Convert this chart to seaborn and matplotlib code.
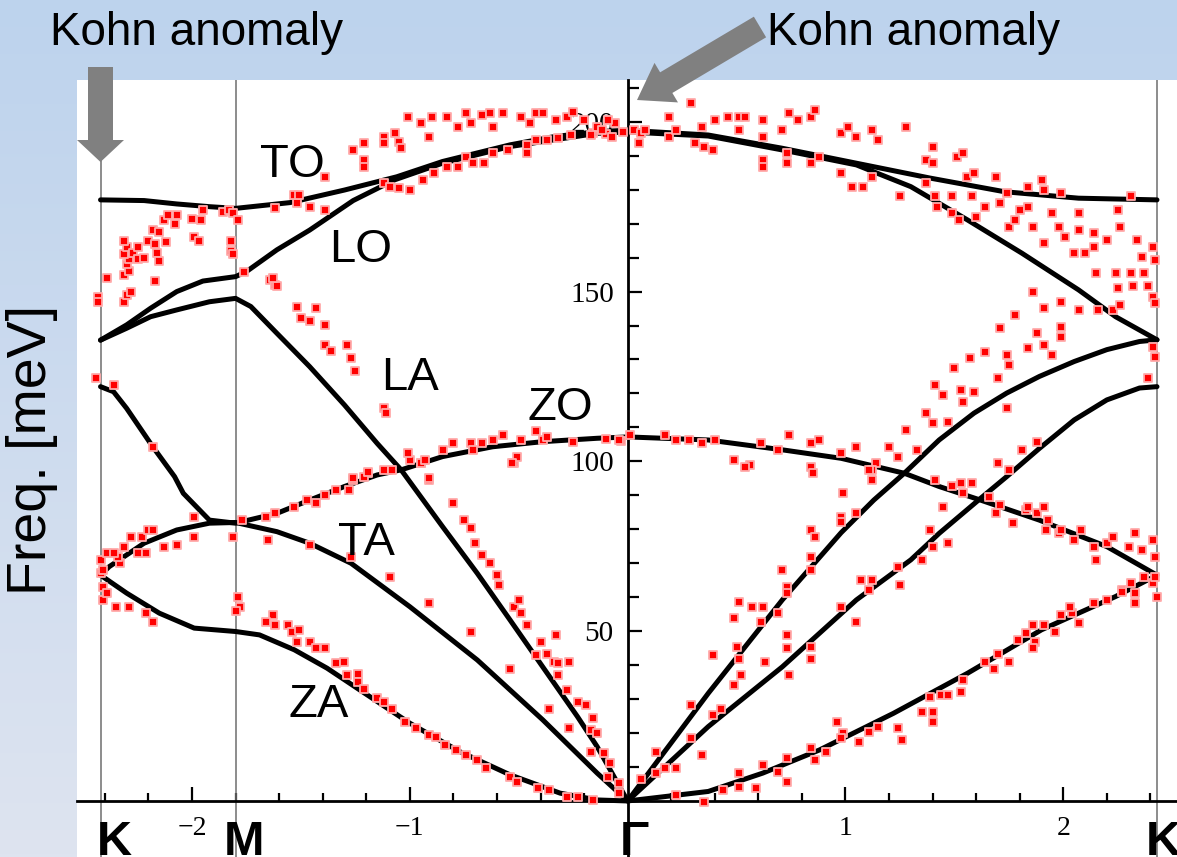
import numpy as np
import matplotlib
matplotlib.use('Agg')
import matplotlib.pyplot as plt
from matplotlib.patches import FancyArrow
import seaborn as sns

# ---------------- data ----------------
sym_q = [-2.42, -1.80, 0.0, 2.43]
sym_labels = ['K', 'M', 'Γ', 'K']
sym_label_dx = [-4, -12, -8, -11]          # pixel offsets of the point labels

x_major = [-2, -1, 1, 2]
x_major_labels = ['−2', '−1', '1', '2']
y_major = [50, 100, 150, 200]
y_major_labels = ['50', '100', '150', '200']

branch_names = ['TO', 'LO', 'LA', 'ZO', 'TA', 'ZA']
TO_q = [-2.42, -2.22, -2.07, -1.92, -1.80, -1.55, -1.30, -1.06, -0.85, -0.54, -0.34, -0.14, 0.0,
        0.37, 0.71, 1.05, 1.39, 1.73, 2.07, 2.43]
TO_E = [177.0, 176.8, 175.8, 175.0, 174.5, 176.2, 179.9, 183.8, 188.3, 193.2, 195.6, 197.1, 197.5,
        196.1, 192.2, 187.8, 183.4, 179.4, 177.5, 177.0]
LO_q = [-2.42, -2.30, -2.19, -2.07, -1.95, -1.80, -1.75, -1.61, -1.46, -1.26, -1.07, -0.85, -0.54,
        -0.14, 0.0, 0.37, 0.71, 1.05, 1.30, 1.56, 1.81, 2.07, 2.24, 2.43]
LO_E = [135.7, 140.2, 145.1, 150.0, 153.1, 154.4, 155.9, 162.3, 168.1, 176.8, 182.9, 187.8, 192.7,
        196.6, 197.0, 195.8, 191.7, 187.3, 180.9, 171.1, 161.3, 150.5, 142.6, 135.8]
LA_q = [-2.42, -2.30, -2.19, -2.07, -1.92, -1.80, -1.73, -1.61, -1.46, -1.30, -1.15, -1.04, -0.85,
        -0.69, -0.54, -0.39, -0.23, -0.14, 0.0, 0.37, 0.71, 0.98, 1.13, 1.27, 1.43, 1.59, 1.74,
        1.89, 2.05, 2.20, 2.35, 2.43]
LA_E = [135.7, 139.2, 142.6, 144.6, 147.0, 148.0, 145.6, 137.7, 127.9, 116.6, 105.3, 97.5, 80.8,
        67.0, 53.3, 39.5, 24.8, 16.0, 0.0, 31.7, 59.2, 79.0, 88.6, 96.5, 106.3, 114.2, 120.1,
        125.0, 129.4, 132.9, 135.3, 135.8]
ZO_q = [-2.42, -2.36, -2.30, -2.18, -2.08, -2.04, -1.92, -1.80, -1.61, -1.46, -1.30, -1.15, -1.04,
        -0.85, -0.62, -0.39, -0.14, 0.0, 0.37, 0.71, 0.98, 1.27, 1.43, 1.62, 1.89, 2.20, 2.43]
ZO_E = [122.0, 120.5, 115.6, 104.3, 95.5, 90.6, 82.7, 81.8, 84.7, 88.6, 92.6, 96.0, 97.5,
        101.4, 104.3, 105.8, 106.8, 107.2, 106.3, 103.4, 100.9, 96.5, 92.6, 88.6, 82.7, 74.9, 66.5]
TA_q = [-2.42, -2.38, -2.22, -2.07, -1.92, -1.80, -1.61, -1.46, -1.27, -1.00, -0.69, -0.39, -0.14,
        0.0, 0.37, 0.71, 1.05, 1.30, 1.43, 1.62, 1.74, 1.89, 2.05, 2.20, 2.35, 2.43]
TA_E = [66.5, 69.0, 75.9, 79.8, 81.8, 82.0, 79.3, 75.9, 70.0, 57.2, 41.5, 23.9, 8.2,
        0.0, 21.9, 39.5, 59.2, 71.0, 78.8, 89.1, 95.5, 103.8, 112.2, 118.1, 121.6, 122.0]
ZA_q = [-2.42, -2.30, -2.15, -1.99, -1.80, -1.69, -1.53, -1.38, -1.23, -1.00, -0.77, -0.54, -0.31,
        -0.14, 0.0, 0.37, 0.62, 0.88, 1.22, 1.56, 1.90, 2.24, 2.43]
ZA_E = [66.5, 61.2, 55.3, 50.9, 49.9, 48.9, 44.5, 39.1, 32.7, 22.9, 14.5, 7.7, 2.3,
        0.3, 0.0, 2.8, 8.2, 15.0, 25.8, 37.6, 50.4, 60.2, 66.5]

label_q = [-1.537, -1.225, -1.000, -0.311, -1.197, -1.417]
label_E = [183.7, 158.7, 121.0, 112.2, 72.4, 24.7]

# measured points, K-M section
exp_q_KM = [-2.43, -2.43, -2.39, -2.31, -2.30, -2.28, -2.31, -2.29, -2.30, -2.29, -2.31, -2.30, -2.31,
            -2.27, -2.25, -2.25, -2.22, -2.20, -2.18, -2.17, -2.16, -2.15, -2.17, -2.15, -2.13, -2.12,
            -2.11, -2.08, -2.07, -2.00, -1.99, -1.97, -1.95, -1.96, -1.86, -1.83, -1.81, -1.79, -1.82,
            -1.82, -1.81,
            -2.44, -2.36, -2.18,
            -2.42, -2.42, -2.41, -2.41, -2.39, -2.39, -2.41, -2.35, -2.29, -2.33, -2.31, -2.28, -2.25,
            -2.23, -2.21, -2.20, -2.18, -2.13, -2.07, -1.99, -1.99, -2.21, -2.18, -2.34, -2.36, -1.81,
            -1.79, -1.78, -1.80]
exp_E_KM = [148.5, 147.0, 154.0, 147.0, 149.0, 150.0, 155.0, 156.0, 158.0, 159.5, 161.0, 163.0, 165.0,
            161.5, 163.0, 159.5, 160.0, 165.0, 168.0, 164.0, 161.5, 159.0, 153.0, 167.5, 171.0, 164.5,
            172.5, 170.0, 172.5, 171.5, 166.0, 165.0, 174.0, 171.0, 173.5, 174.0, 173.0, 171.0, 165.0,
            162.0, 161.0,
            124.5, 122.5, 104.3,
            71.0, 67.0, 63.1, 59.2, 61.1, 72.9, 68.0, 57.2, 57.2, 70.0, 74.9, 77.8, 72.9,
            77.8, 72.9, 79.8, 79.8, 74.9, 75.4, 77.8, 83.7, 55.3, 52.8, 71.9, 72.9, 77.8,
            60.2, 57.2, 55.8]

# measured points, M-Gamma section
exp_q_MG = [-1.77, -1.66, -1.62, -1.65, -1.53, -1.47, -1.43, -1.39, -1.34, -1.28, -1.26, -1.19, -1.12,
            -1.08, -1.00, -0.95, -1.46, -1.27, -1.09, -0.91, -0.72, -0.54, -0.36, -0.91, -0.52,
            -0.80, -0.75, -0.72, -0.70, -0.67, -0.63, -0.60, -0.59, -0.52, -0.50, -0.49, -0.46, -0.40,
            -0.33, -0.42, -0.37, -0.34, -0.32, -0.27, -0.32, -0.28, -0.23, -0.19, -0.27, -0.16, -0.17,
            -0.17,
            -0.14, -0.11, -0.08, -0.09, -0.04, -0.04,
            -1.63, -1.66, -1.62, -1.56, -1.54, -1.51, -1.52, -1.46, -1.43, -1.39, -1.34, -1.30, -1.29,
            -1.24, -1.24, -1.21, -1.15, -1.12, -1.08, -1.02, -0.97, -0.91, -0.88, -0.84, -0.79, -0.74,
            -0.69, -0.65, -0.54, -0.51, -0.41, -0.36, -0.28, -0.23, -0.16,
            -1.26, -1.21, -1.19, -1.01, -0.95, -0.93, -0.85, -0.80, -0.72, -0.71, -0.67, -0.62, -0.57,
            -0.49, -0.42, -0.39, -0.37, -0.25, -0.51, -0.53, -0.91, -0.10, -0.03, -0.04,
            -1.62, -1.52, -1.53, -1.51, -1.46, -1.39, -1.39, -1.76, -1.64, -1.62, -1.61, -1.63,
            -1.52, -1.43, -1.50, -1.46, -1.39, -1.39, -1.36, -1.29, -1.27, -1.25, -1.12, -1.11,
            -1.26, -1.21, -1.21, -1.21, -1.12, -1.12, -1.07, -1.05, -1.04, -1.01, -0.95, -0.91, -0.90,
            -0.83, -0.78, -0.74, -0.72, -0.67, -0.63, -0.62, -0.57, -0.49, -0.45, -0.42, -0.39, -0.33,
            -0.28, -0.25, -0.20,
            -1.12, -1.09, -1.05, -1.00, -0.94, -0.89, -0.83, -0.78, -0.74, -0.71, -0.66, -0.62, -0.55,
            -0.46, -0.46, -0.42, -0.37, -0.32, -0.26, -0.16,
            -0.14, -0.10, -0.06, -0.02, -0.17, -0.12, -0.09, -0.07]
exp_E_MG = [82.7, 83.7, 84.7, 76.8, 86.7, 88.6, 87.7, 90.1, 91.6, 91.6, 94.5, 96.5, 97.5,
            97.5, 100.4, 99.4, 75.4, 71.9, 66.0, 58.2, 49.8, 39.0, 27.2, 94.5, 99.4,
            87.7, 82.7, 80.3, 75.9, 72.4, 70.0, 66.5, 63.6, 57.2, 59.2, 55.3, 51.8, 46.9,
            48.9, 43.0, 43.4, 41.0, 40.5, 41.0, 37.0, 32.7, 29.2, 28.2, 21.4, 24.3, 20.9,
            14.5,
            19.9, 14.0, 11.1, 7.1, 5.2, 2.2,
            54.8, 52.8, 51.8, 51.8, 49.8, 50.3, 46.9, 46.9, 44.9, 44.9, 40.5, 41.0, 37.0,
            37.5, 35.1, 33.1, 30.2, 29.2, 27.2, 23.3, 21.4, 19.4, 18.9, 16.5, 15.0, 13.6,
            12.1, 9.6, 7.1, 5.7, 3.7, 3.2, 1.2, 1.2, 0.2,
            95.0, 95.5, 97.0, 102.4, 99.4, 100.4, 103.4, 105.3, 105.3, 103.4, 105.3, 106.3, 107.8,
            106.3, 108.8, 106.3, 107.3, 105.8, 101.4, 99.4, 95.0, 106.5, 106.0, 106.3,
            174.5, 176.0, 178.4, 178.4, 175.0, 174.0, 183.8, 155.9, 153.4, 152.0, 151.5, 154.0,
            145.6, 145.1, 142.2, 141.2, 140.3, 134.4, 132.4, 134.4, 130.5, 126.6, 115.8, 114.3,
            191.7, 193.7, 188.8, 186.8, 195.6, 193.7, 196.6, 194.1, 192.2, 201.5, 199.6, 195.6, 201.5,
            201.5, 198.6, 202.5, 199.6, 202.0, 202.5, 198.6, 202.5, 201.5, 199.6, 202.5, 202.5, 200.5,
            201.5, 203.0, 200.5,
            181.9, 180.9, 180.4, 179.9, 182.9, 184.8, 186.8, 186.8, 189.7, 187.8, 187.8, 190.7, 191.7,
            193.2, 190.7, 194.6, 194.6, 195.1, 196.1, 196.6,
            198.5, 196.5, 199.5, 197.0, 196.0, 197.6, 200.5, 195.6]

# measured points, Gamma-K section
exp_q_GK = [0.03, 0.05, 0.06, 0.08, 0.19, 0.19, 0.22, 0.29, 0.31, 0.34, 0.35, 0.39, 0.40, 0.46, 0.51,
            0.54, 0.51, 0.62, 0.62, 0.62, 0.62, 0.71, 0.73, 0.73, 0.74, 0.78, 0.84, 0.86, 0.84, 0.88,
            0.98, 0.98, 1.01, 1.05, 1.03, 1.08, 1.12, 1.12, 1.15, 1.25, 1.28, 1.37, 1.37, 1.40, 1.40,
            1.41, 1.42, 1.49, 1.49, 1.51, 1.54, 1.52, 1.56, 1.58, 1.59, 1.60, 1.64, 1.69, 1.71, 1.74,
            1.75, 1.78, 1.80, 1.84, 1.84, 1.86, 1.90, 1.91, 1.91, 1.95, 1.99, 1.98, 2.01, 2.05, 2.07,
            2.07, 2.10, 2.14, 2.14, 2.15, 2.20, 2.24, 2.25, 2.26, 2.25, 2.31, 2.31, 2.32, 2.34, 2.36,
            2.37, 2.39, 2.41, 2.41, 2.42, 2.42,
            1.86, 1.91, 1.99, 2.07, 2.16, 2.23, 2.26, 1.99, 1.99, 1.88, 1.78, 1.71, 1.64, 1.57, 1.74,
            1.75, 1.84, 1.91, 1.95, 1.50, 1.70, 1.41, 1.45, 1.53, 1.59, 1.54, 1.74, 1.37, 1.40, 1.47,
            1.28, 2.39, 2.42, 2.41,
            1.33, 1.24, 1.20, 1.05, 0.98, 0.84, 0.88, 0.74, 0.61, 0.69, 0.56, 0.54, 0.49, 0.40, 0.34,
            0.28, 0.22, 0.17, 0.01, 1.81, 1.88, 1.70, 1.75, 1.14, 1.12, 0.84, 0.85, 0.99, 1.11, 1.12,
            1.41, 1.49, 1.53, 1.58, 1.54, 1.66, 1.45, 1.69, 1.71, 1.77, 1.83, 1.84, 1.88, 1.91, 1.93,
            1.92, 1.98, 1.99, 2.08, 2.05, 2.15, 2.14, 2.20, 2.23, 2.30, 2.33, 2.36, 2.41, 2.42, 2.41,
            2.43, 2.33, 2.33, 2.27, 2.37, 2.42, 2.31,
            0.84, 0.86, 0.84, 0.84, 0.71, 0.73, 0.73, 0.51, 0.57, 0.62, 0.61, 0.69, 0.49, 0.50, 0.51,
            0.52, 0.49, 0.39, 0.29, 0.39, 0.43, 0.29, 0.34, 0.13, 0.06, 0.13, 0.17, 0.22, 0.73, 0.73,
            0.63, 0.74, 0.84, 0.84, 0.98, 1.05, 1.11, 1.07, 1.12, 1.24, 1.25, 1.35, 1.39, 1.40, 1.47,
            0.98, 0.98, 1.05,
            0.96, 0.99, 1.06, 1.11, 1.15, 1.24, 1.26, 1.35, 1.40, 1.40, 1.39, 1.44, 1.47, 1.53, 1.54,
            1.64, 1.68, 1.70, 1.75, 1.79, 1.83, 1.86, 1.87, 1.86, 1.91, 1.96, 1.99, 2.04, 2.07, 2.03,
            2.14, 2.20, 2.27, 0.51, 0.62, 0.69, 0.73, 0.73, 0.84, 0.86, 0.91, 0.44, 0.51, 0.59, 0.22,
            0.35, 0.98]
exp_E_GK = [197.6, 193.7, 196.6, 197.6, 201.5, 195.6, 197.6, 205.4, 193.7, 198.6, 192.7, 191.7, 200.5,
            201.5, 201.5, 201.5, 197.6, 200.5, 195.6, 188.8, 186.8, 197.6, 190.7, 187.8, 202.5, 200.5,
            201.5, 203.5, 187.8, 189.7, 196.6, 184.8, 198.6, 195.6, 180.9, 180.9, 183.8, 197.6, 194.6,
            178.0, 198.6, 181.9, 188.8, 192.7, 187.8, 178.0, 175.0, 178.0, 173.0, 189.7, 190.7, 171.1,
            183.8, 178.0, 184.8, 172.1, 175.0, 183.8, 176.0, 178.9, 169.1, 171.1, 174.0, 180.9, 175.0,
            169.1, 182.9, 179.9, 164.2, 173.0, 178.9, 169.1, 166.2, 161.3, 173.0, 168.1, 161.3, 167.2,
            163.2, 155.4, 165.2, 155.4, 174.0, 169.1, 151.0, 178.0, 155.4, 151.5, 165.2, 160.3, 155.4,
            151.5, 163.2, 148.5, 159.3, 146.5,
            150.0, 145.1, 147.0, 144.6, 144.6, 144.6, 146.1, 139.7, 136.7, 137.7, 143.1, 139.2, 132.3,
            130.4, 131.3, 128.4, 133.3, 134.3, 131.3, 127.4, 124.5, 122.5, 119.6, 121.0, 120.5, 117.6,
            115.6, 114.2, 111.2, 111.7, 109.2, 124.5, 130.8, 133.8,
            103.4, 101.4, 104.3, 104.3, 102.4, 105.3, 106.3, 107.8, 105.3, 103.4, 98.9, 98.4, 100.4,
            106.3, 105.3, 106.3, 106.3, 107.8, 107.8, 103.4, 105.8, 99.4, 97.5, 99.4, 97.5, 98.4, 96.5,
            90.6, 97.5, 94.5, 94.5, 92.6, 93.5, 93.5, 90.6, 89.6, 86.7, 84.7, 87.2, 81.8, 85.7, 86.7,
            84.7, 86.7, 82.7, 79.8, 78.8, 79.8, 79.8, 76.8, 71.0, 74.9, 75.9, 77.8, 74.9, 78.8, 73.9,
            76.8, 71.9, 64.1, 60.2, 61.1, 58.2, 62.1, 66.0, 66.0, 64.1,
            79.8, 77.8, 71.9, 68.0, 68.0, 63.1, 61.1, 58.7, 57.2, 57.2, 52.8, 55.3, 53.8, 45.4, 41.9,
            37.0, 34.1, 42.9, 28.2, 25.3, 27.2, 18.5, 13.6, 14.5, 6.6, 8.1, 9.6, 9.6, 48.9, 44.9,
            41.0, 37.0, 45.4, 41.9, 57.2, 52.8, 62.1, 65.1, 65.1, 69.0, 63.6, 71.0, 79.8, 74.9, 75.9,
            83.7, 82.2, 84.7,
            23.3, 19.9, 17.5, 20.4, 21.9, 21.4, 18.0, 26.3, 26.3, 23.3, 30.7, 31.2, 31.2, 32.1, 35.5,
            41.0, 39.0, 43.4, 41.0, 47.4, 49.4, 51.8, 46.9, 44.9, 51.8, 49.8, 54.8, 55.3, 52.3, 57.2,
            58.2, 59.2, 61.6, 8.1, 10.6, 8.6, 12.6, 5.7, 15.5, 12.1, 14.5, 3.2, 4.2, 3.7, 1.7,
            -0.3, 18.5]

# ---------------- figure ----------------
sns.set_style('white')
plt.rcParams['font.family'] = ['Liberation Sans', 'DejaVu Sans']
plt.rcParams['text.color'] = 'black'
plt.rcParams['axes.labelcolor'] = 'black'
plt.rcParams['xtick.color'] = 'black'
plt.rcParams['ytick.color'] = 'black'

W, H = 1177, 857
fig = plt.figure(figsize=(W / 100, H / 100), dpi=100)

# slide background gradient
bg = fig.add_axes([0, 0, 1, 1], zorder=-5)
t = np.linspace(0, 1, 256)[:, None, None]
c_top = np.array([189, 211, 237]) / 255.0
c_bot = np.array([222, 228, 240]) / 255.0
bg.imshow(c_top * (1 - t) + c_bot * t, aspect='auto', extent=[0, 1, 0, 1], origin='upper')
bg.axis('off')

ax = fig.add_axes([77 / W, 0, 1 - 77 / W, 777 / H])
ax.set_facecolor('white')

for q in [sym_q[0], sym_q[1], sym_q[3]]:
    ax.axvline(q, color='#6e6e6e', lw=1.1, zorder=1)

branches = [(TO_q, TO_E), (LO_q, LO_E), (LA_q, LA_E), (ZO_q, ZO_E), (TA_q, TA_E), (ZA_q, ZA_E)]
for q, E in branches:
    sns.lineplot(x=q, y=E, sort=False, estimator=None, color='black', lw=3.6, ax=ax, zorder=3,
                 solid_joinstyle='round')

exp_q = exp_q_KM + exp_q_MG + exp_q_GK
exp_E = exp_E_KM + exp_E_MG + exp_E_GK
sns.scatterplot(x=exp_q, y=exp_E, marker='s', s=34, color='#ff0000', edgecolor='#ffaaaa',
                linewidth=1.3, ax=ax, zorder=4, legend=False)

ax.set_xlim(-2.528, 2.522)
ax.set_ylim(-16.5, 212.3)

for s in ['top', 'right']:
    ax.spines[s].set_visible(False)
ax.spines['left'].set_position(('data', 0))
ax.spines['bottom'].set_position(('data', 0))
for s in ['left', 'bottom']:
    ax.spines[s].set_linewidth(2.0)
    ax.spines[s].set_color('black')
    ax.spines[s].set_zorder(2.5)

x_minor = [v for v in np.round(np.arange(-2.4, 2.41, 0.2), 1) if abs(v - round(v)) > 1e-6]
y_minor = [v for v in range(10, 211, 10) if v % 50 != 0]
ax.set_xticks(x_major)
ax.set_xticklabels(x_major_labels, fontfamily='Liberation Serif', fontsize=20)
ax.set_xticks(x_minor, minor=True)
ax.set_yticks(y_major)
ax.set_yticklabels(y_major_labels, fontfamily='Liberation Serif', fontsize=21)
ax.set_yticks(y_minor, minor=True)
ax.tick_params(axis='x', which='both', bottom=True, top=False, labelbottom=True)
ax.tick_params(axis='y', which='both', left=True, right=False, labelleft=True)
ax.tick_params(axis='x', which='major', direction='in', length=10, width=1.6, pad=11)
ax.tick_params(axis='x', which='minor', direction='in', length=6, width=1.6)
ax.tick_params(axis='y', which='major', direction='in', length=10, width=1.6, pad=10)
ax.tick_params(axis='y', which='minor', direction='in', length=8, width=1.6)
ax.set_xlabel('')
ax.set_ylabel('')

for name, q, E in zip(branch_names, label_q, label_E):
    ax.text(q, E, name, fontsize=34, ha='center', va='baseline', zorder=5, color='black')

for lbl, q, dx in zip(sym_labels, sym_q, sym_label_dx):
    ax.annotate(lbl, xy=(q, 0), xytext=(dx, -54), textcoords='offset pixels',
                fontsize=35, fontweight='bold', ha='left', va='baseline', color='black',
                annotation_clip=False, zorder=5)

fig.text(32 / W, 1 - 450 / H, 'Freq. [meV]', rotation=90, fontsize=40, ha='center', va='center',
         color='black')
fig.text(50 / W, 1 - 45 / H, 'Kohn anomaly', fontsize=33, ha='left', va='baseline', color='black')
fig.text(767 / W, 1 - 45 / H, 'Kohn anomaly', fontsize=33, ha='left', va='baseline', color='black')

ov = fig.add_axes([0, 0, 1, 1], zorder=10)
ov.set_xlim(0, W)
ov.set_ylim(H, 0)
ov.axis('off')
ov.patch.set_alpha(0)
ov.add_patch(FancyArrow(100.5, 67, 0, 95, width=25, head_width=47, head_length=22,
                        length_includes_head=True, color='#808080', lw=0))
ov.add_patch(FancyArrow(760, 27, -123, 73, width=24, head_width=46, head_length=34,
                        length_includes_head=True, color='#808080', lw=0))

fig.savefig('out.png', dpi=100)
